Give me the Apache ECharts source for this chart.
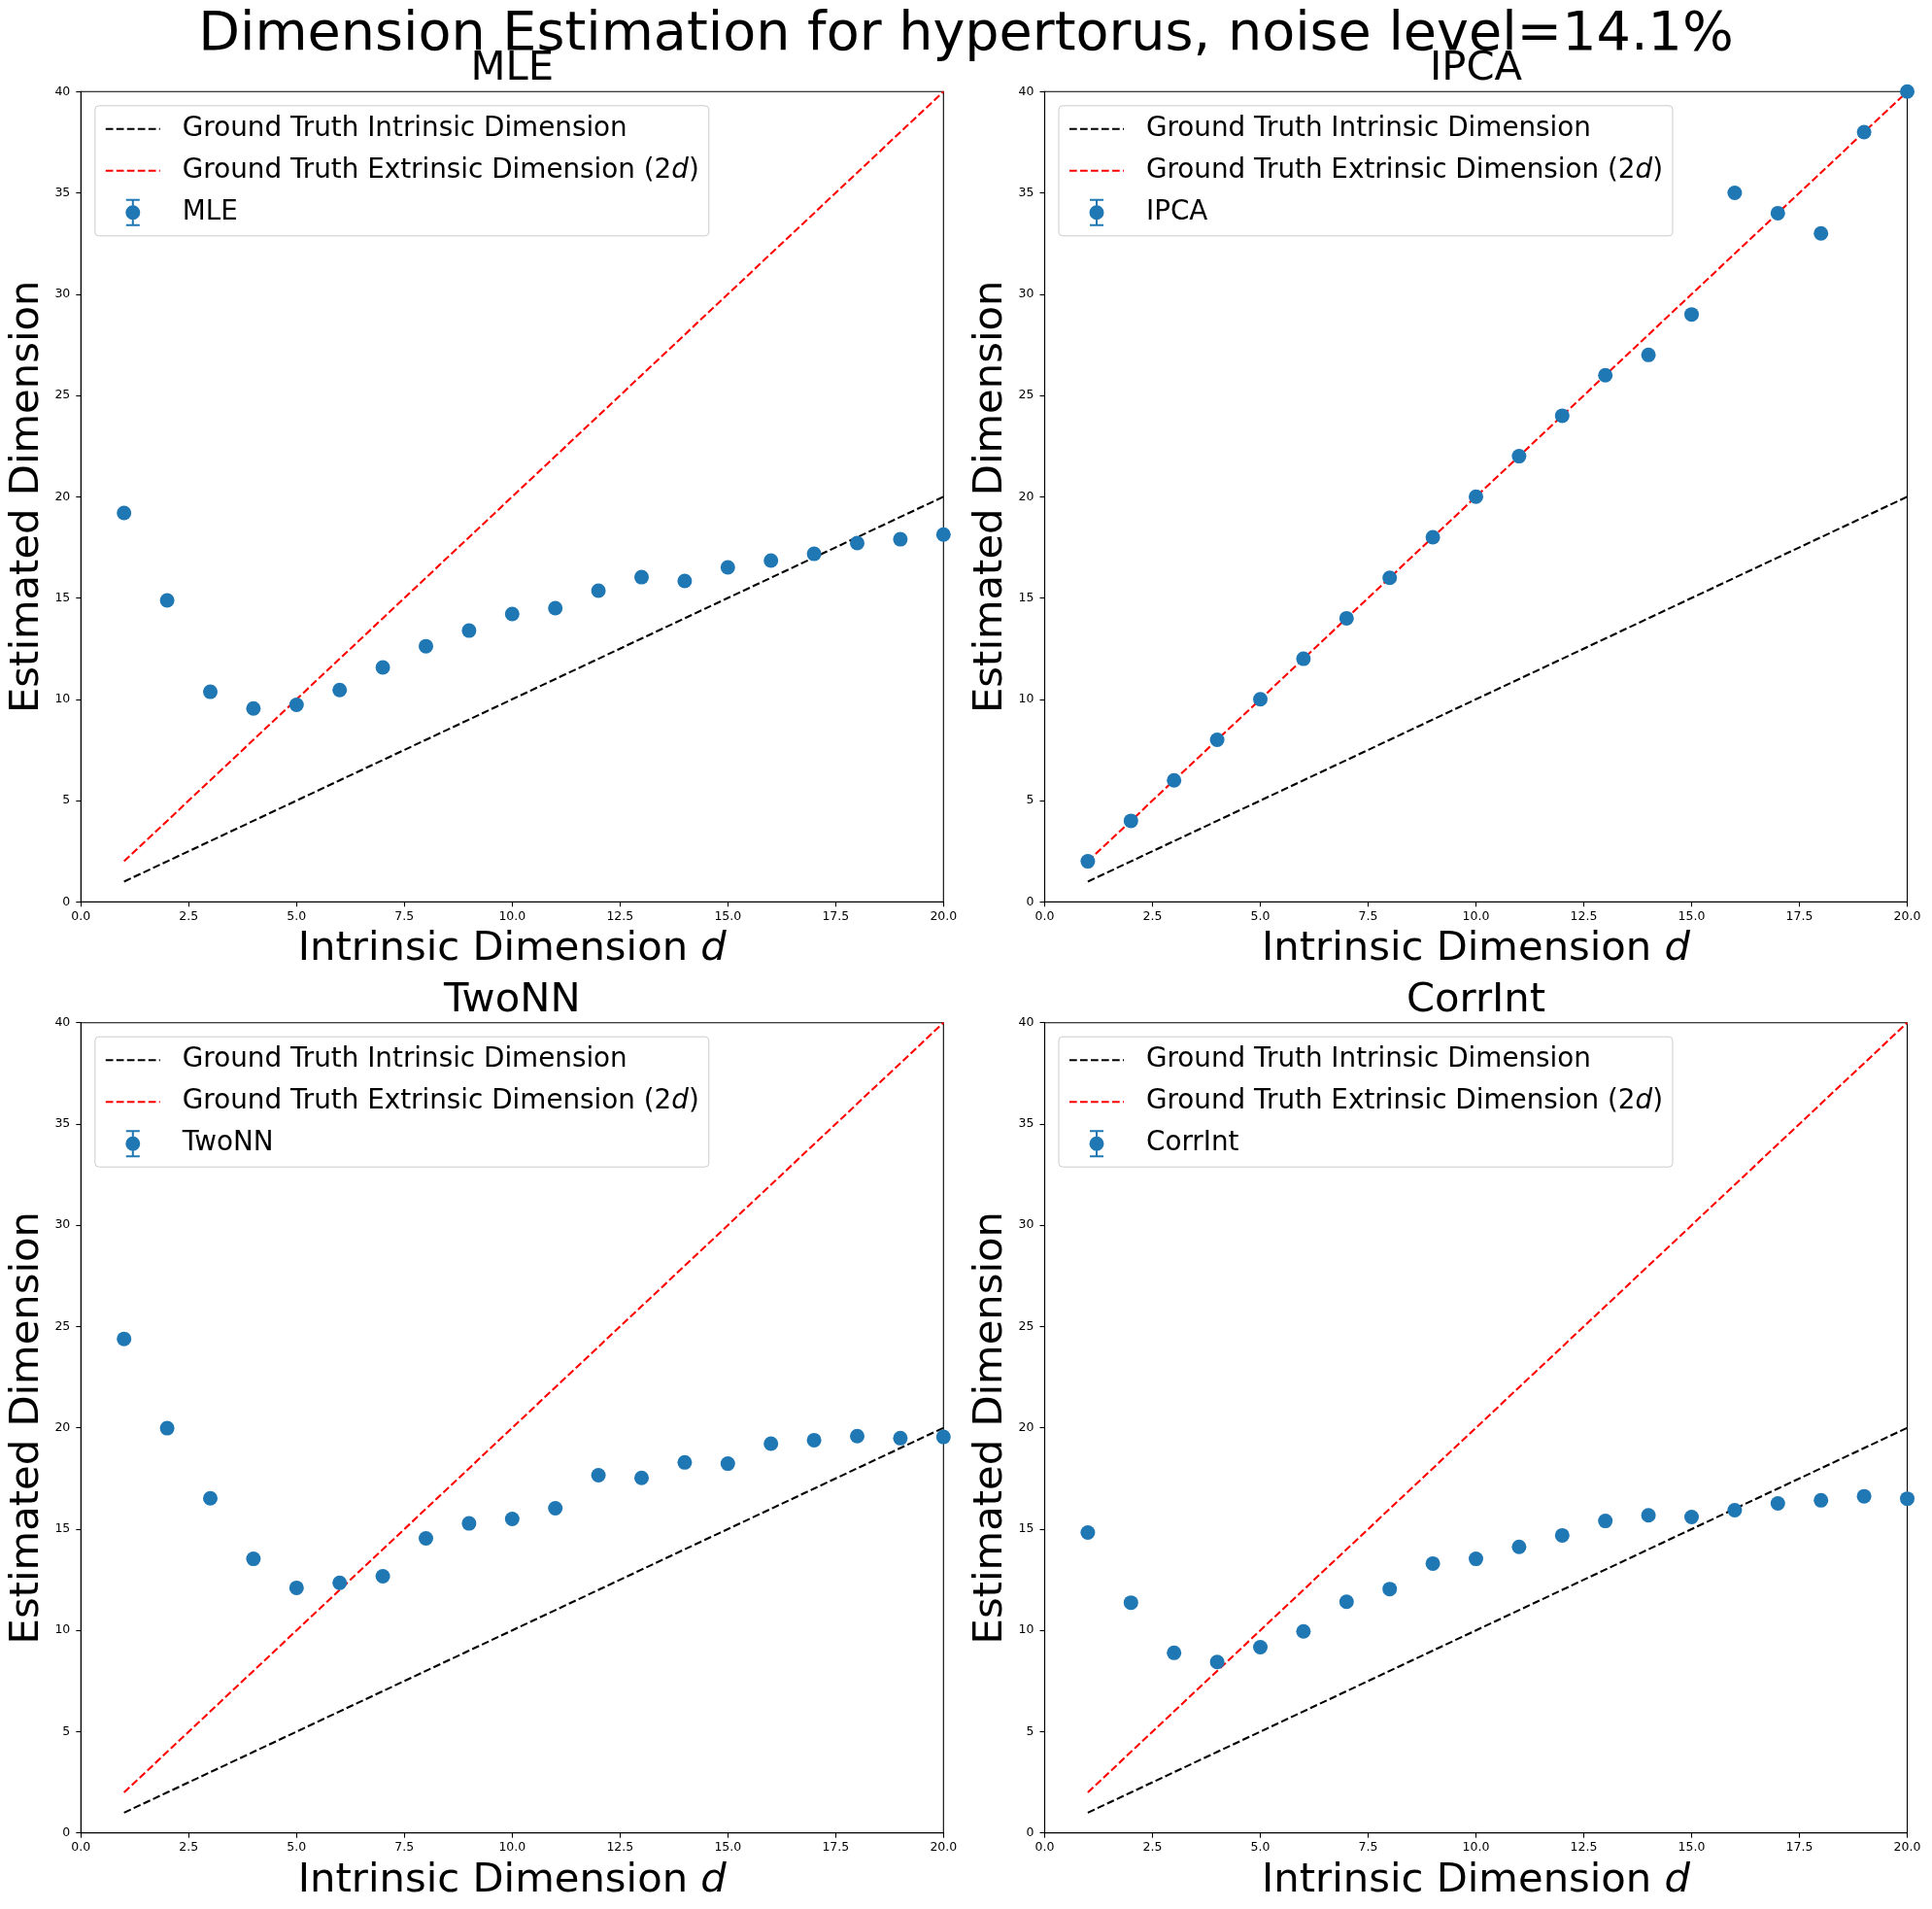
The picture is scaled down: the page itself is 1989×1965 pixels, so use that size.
<!DOCTYPE html>
<html>
<head>
<meta charset="utf-8">
<script src="https://cdn.jsdelivr.net/npm/echarts@6/dist/echarts.min.js"></script>
<style>
html,body{margin:0;padding:0;background:#fff;}
#c{width:1989px;height:1965px;}
</style>
</head>
<body>
<div id="c"></div>
<script>
// ---------------- data ----------------
const dims = [1,2,3,4,5,6,7,8,9,10,11,12,13,14,15,16,17,18,19,20];
const intrinsicTruth = [1,2,3,4,5,6,7,8,9,10,11,12,13,14,15,16,17,18,19,20];
const extrinsicTruth = [2,4,6,8,10,12,14,16,18,20,22,24,26,28,30,32,34,36,38,40];
const mleValues = [19.2,14.88,10.37,9.55,9.73,10.46,11.57,12.62,13.39,14.21,14.5,15.36,16.03,15.84,16.51,16.85,17.18,17.71,17.9,18.13];
const ipcaValues = [2,4,6,8,10,12,14,16,18,20,22,24,26,27,29,35,34,33,38,40];
const twonnValues = [24.39,19.98,16.52,13.53,12.1,12.35,12.67,14.54,15.28,15.5,16.03,17.66,17.53,18.29,18.23,19.22,19.39,19.59,19.49,19.55];
const corrintValues = [14.83,11.37,8.89,8.44,9.17,9.95,11.41,12.04,13.3,13.53,14.12,14.69,15.4,15.68,15.6,15.93,16.27,16.42,16.62,16.5];
const methodNames = ['MLE','IPCA','TwoNN','CorrInt'];
const mainTitle = 'Dimension Estimation for hypertorus, noise level=14.1%';
const xAxisTitle = 'Intrinsic Dimension {i|d}';
const yAxisTitle = 'Estimated Dimension';
const INT = 'Ground Truth Intrinsic Dimension';
const EXT = 'Ground Truth Extrinsic Dimension (2d)';
const EXT_LABEL = 'Ground Truth Extrinsic Dimension (2{i|d})';

// ---------------- layout ----------------
const methodValues = [mleValues, ipcaValues, twonnValues, corrintValues];
const FONT = 'DejaVu Sans';
const W = 888, H = 834;
const boxes = [[83.3,94.3],[1075.5,94.3],[83.3,1052.7],[1075.5,1052.7]];
const BLUE = '#1f77b4';
const DASH = [7.7,3.3];
const ERRBAR_ICON = 'path://M0.5,0H14.5V2H8.5V26H14.5V28H0.5V26H6.5V2H0.5Z M0,14A7.5,7.5,0,1,1,15,14A7.5,7.5,0,1,1,0,14Z';
const NO_SYMBOL = {color: 'rgba(0,0,0,0)', borderColor: 'rgba(0,0,0,0)', borderWidth: 0, opacity: 0};

const pairs = (xs, ys) => xs.map((x, i) => [x, ys[i]]);

const series = [];
boxes.forEach((b, i) => {
  series.push({
    name: INT, type: 'line', xAxisIndex: i, yAxisIndex: i,
    data: pairs(dims, intrinsicTruth), symbol: 'none', showSymbol: false,
    color: '#000000',
    lineStyle: {color: '#000000', width: 2.08, type: DASH}, z: 2, silent: true
  });
  series.push({
    name: EXT, type: 'line', xAxisIndex: i, yAxisIndex: i,
    data: pairs(dims, extrinsicTruth), symbol: 'none', showSymbol: false,
    color: '#ff0000',
    lineStyle: {color: '#ff0000', width: 2.08, type: DASH}, z: 2, silent: true
  });
  series.push({
    name: methodNames[i], type: 'scatter', xAxisIndex: i, yAxisIndex: i,
    data: pairs(dims, methodValues[i]), symbol: 'circle', symbolSize: 15,
    color: BLUE, itemStyle: {color: BLUE, opacity: 1}, z: 3, silent: true
  });
});

const richI = (fs, lh) => ({i: {fontSize: fs, fontStyle: 'italic', fontFamily: FONT, color: '#000', lineHeight: lh}});

const option = {
  animation: false,
  backgroundColor: '#ffffff',
  textStyle: {fontFamily: FONT},
  grid: boxes.map(b => ({left: b[0], top: b[1], width: W, height: H, show: true,
    borderColor: '#000', borderWidth: 1.1, backgroundColor: 'transparent'})),
  xAxis: boxes.map((b, i) => ({
    gridIndex: i, type: 'value', min: 0, max: 20, interval: 2.5,
    name: xAxisTitle, nameLocation: 'middle', nameGap: 28,
    nameTextStyle: {fontSize: 41.7, color: '#000', fontFamily: FONT, rich: richI(41.7, 41.7)},
    axisLine: {show: true, onZero: false, lineStyle: {color: '#000', width: 1.1}},
    axisTick: {show: true, inside: false, length: 5, lineStyle: {color: '#000', width: 1.1}},
    axisLabel: {fontSize: 12.5, color: '#000', margin: 9, fontFamily: FONT,
      formatter: v => v.toFixed(1), showMinLabel: true, showMaxLabel: true},
    splitLine: {show: false}
  })),
  yAxis: boxes.map((b, i) => ({
    gridIndex: i, type: 'value', min: 0, max: 40, interval: 5,
    name: yAxisTitle, nameLocation: 'middle', nameGap: 34,
    nameTextStyle: {fontSize: 41.7, color: '#000', fontFamily: FONT},
    axisLine: {show: true, onZero: false, lineStyle: {color: '#000', width: 1.1}},
    axisTick: {show: true, inside: false, length: 5, lineStyle: {color: '#000', width: 1.1}},
    axisLabel: {fontSize: 12.5, color: '#000', margin: 11, fontFamily: FONT,
      showMinLabel: true, showMaxLabel: true},
    splitLine: {show: false}
  })),
  legend: boxes.map((b, i) => ({
    left: b[0] + 14.5, top: b[1] + 14.5, orient: 'vertical',
    itemWidth: 56, itemHeight: 28, itemGap: 15,
    padding: [10, 10, 10, 10],
    backgroundColor: 'rgba(255,255,255,0.8)', borderColor: '#cccccc', borderWidth: 1, borderRadius: 4,
    selectedMode: false,
    textStyle: {fontSize: 27.8, color: '#000', fontFamily: FONT, lineHeight: 28,
      padding: [0, 0, 0, 18], rich: richI(27.8, 28)},
    formatter: n => (n === EXT ? EXT_LABEL : n),
    data: [{name: INT, itemStyle: NO_SYMBOL}, {name: EXT, itemStyle: NO_SYMBOL},
           {name: methodNames[i], icon: ERRBAR_ICON}]
  })),
  graphic: [
    {type: 'text', x: 994.5, y: 36.3, silent: true,
      style: {text: mainTitle, font: '55.6px "DejaVu Sans"', fill: '#000', align: 'center', verticalAlign: 'middle'}}
  ].concat(boxes.map((b, i) => ({
    type: 'text', x: b[0] + W / 2, y: b[1] - 22.8, silent: true,
    style: {text: methodNames[i], font: '41.7px "DejaVu Sans"', fill: '#000', align: 'center', verticalAlign: 'middle'}
  }))),
  series: series
};

const chart = echarts.init(document.getElementById('c'), null, {renderer: 'canvas'});
chart.setOption(option);
</script>
</body>
</html>
